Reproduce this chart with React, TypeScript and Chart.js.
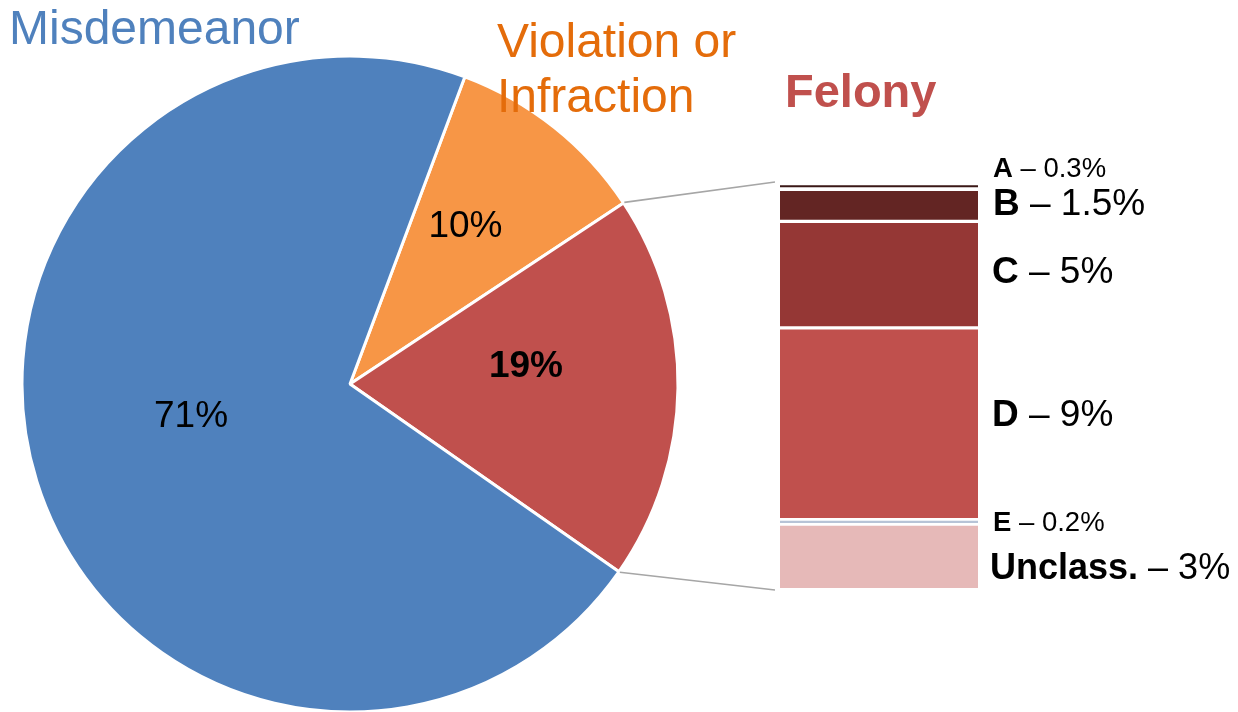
import React, { useEffect, useRef } from 'react';
import { Chart, registerables } from 'chart.js';

Chart.register(...registerables);

// ---- data ----
const pieCategories = ['Violation or Infraction', 'Felony', 'Misdemeanor'];
const pieValues = [10, 19, 71];
const pieTexts = ['10%', '19%', '71%'];

const felonyClasses = ['Unclass.', 'E', 'D', 'C', 'B', 'A'];
const felonyValues = [3, 0.2, 9, 5, 1.5, 0.3];
const felonyTexts = ['3%', '0.2%', '9%', '5%', '1.5%', '0.3%'];
const felonyTotal = 19;

// ---- styles ----
const FONT = '"Liberation Sans", Arial, Helvetica, sans-serif';
const pieColors = ['#F79646', '#C0504D', '#4F81BD'];
const pieLabelBold = [false, true, false];
const pieLabelRadius = [0.603, 0.54, 0.493];
const pieLabelShift = [-2.8, -7.3, 6.7];
const PIE_LABEL_SIZE = 37;

const barColors = ['#E6B9B8', '#B7C3D6', '#C0504D', '#953735', '#632523', '#3A1716'];
const barBorders = [
  { top: 2, bottom: 0 },
  { top: 1.4, bottom: 1.4 },
  { top: 2, bottom: 2 },
  { top: 2, bottom: 2 },
  { top: 2, bottom: 2 },
  { top: 2.5, bottom: 2.5 },
];
const barLabelSize = [36, 27.5, 37, 37, 37, 27.5];
const barLabelShift = [10.4, -0.3, -11.6, -5.2, -3.3, -18.8];
const barLabelGap = [12, 15, 14, 14, 15, 15];
const CAP = 0.716;

function drawTitles(ctx: CanvasRenderingContext2D) {
  ctx.save();
  ctx.textAlign = 'left';
  ctx.textBaseline = 'alphabetic';
  ctx.fillStyle = '#4F81BD';
  ctx.font = `48px ${FONT}`;
  ctx.fillText('Misdemeanor', 9, 43.5);
  ctx.fillStyle = '#E46C0A';
  ctx.font = `48px ${FONT}`;
  ctx.fillText('Violation or', 497, 56.5);
  ctx.fillText('Infraction', 497, 111.7);
  ctx.fillStyle = '#C0504D';
  ctx.font = `bold 47px ${FONT}`;
  ctx.fillText('Felony', 785, 106.7);
  ctx.restore();
}

export default function App() {
  const pieRef = useRef<HTMLCanvasElement>(null);
  const barRef = useRef<HTMLCanvasElement>(null);

  useEffect(() => {
    const pieTextPlugin = {
      id: 'pieText',
      afterDatasetsDraw(chart: any) {
        const ctx: CanvasRenderingContext2D = chart.ctx;
        const meta = chart.getDatasetMeta(0);
        ctx.save();
        meta.data.forEach((arc: any, i: number) => {
          const mid = (arc.startAngle + arc.endAngle) / 2 + (pieLabelShift[i] * Math.PI) / 180;
          const r = arc.outerRadius * pieLabelRadius[i];
          const x = arc.x + Math.cos(mid) * r;
          const y = arc.y + Math.sin(mid) * r;
          ctx.font = `${pieLabelBold[i] ? 'bold ' : ''}${PIE_LABEL_SIZE}px ${FONT}`;
          ctx.textAlign = 'center';
          ctx.textBaseline = 'alphabetic';
          ctx.fillStyle = '#000';
          ctx.fillText(pieTexts[i], x, y + (CAP * PIE_LABEL_SIZE) / 2);
        });
        ctx.restore();
        drawTitles(ctx);
      },
    };

    const pie = new Chart(pieRef.current!, {
      type: 'pie',
      data: {
        labels: pieCategories,
        datasets: [
          {
            data: pieValues,
            backgroundColor: pieColors,
            borderColor: '#ffffff',
            borderWidth: 3,
            hoverOffset: 0,
          },
        ],
      },
      options: {
        animation: false,
        responsive: false,
        rotation: 20.5,
        radius: 328,
        layout: { padding: { left: 23, top: 57, right: 561, bottom: 1 } },
        plugins: { legend: { display: false }, tooltip: { enabled: false } },
        events: [],
      } as any,
      plugins: [pieTextPlugin],
    });

    const barPlugin = {
      id: 'barExtras',
      afterDatasetsDraw(chart: any) {
        const ctx: CanvasRenderingContext2D = chart.ctx;
        const area = chart.chartArea;
        // connector lines from felony slice to the bar
        const arc: any = pie.getDatasetMeta(0).data[1];
        const rr = arc.outerRadius + 1;
        const p1 = { x: arc.x + Math.cos(arc.startAngle) * rr, y: arc.y + Math.sin(arc.startAngle) * rr };
        const p2 = { x: arc.x + Math.cos(arc.endAngle) * rr, y: arc.y + Math.sin(arc.endAngle) * rr };
        ctx.save();
        ctx.strokeStyle = '#A6A6A6';
        ctx.lineWidth = 1.6;
        ctx.beginPath();
        ctx.moveTo(p1.x, p1.y);
        ctx.lineTo(area.left - 5, area.top - 1);
        ctx.moveTo(p2.x, p2.y);
        ctx.lineTo(area.left - 5, area.bottom + 2);
        ctx.stroke();
        ctx.restore();

        // class labels
        ctx.save();
        ctx.textAlign = 'left';
        ctx.textBaseline = 'alphabetic';
        ctx.fillStyle = '#000';
        felonyClasses.forEach((cls, i) => {
          const el: any = chart.getDatasetMeta(i).data[0];
          const cy = (el.y + el.base) / 2 + barLabelShift[i];
          const size = barLabelSize[i];
          const baseY = cy + (CAP * size) / 2;
          let x = area.right + barLabelGap[i];
          ctx.font = `bold ${size}px ${FONT}`;
          ctx.fillText(cls, x, baseY);
          x += ctx.measureText(cls).width;
          ctx.font = `${size}px ${FONT}`;
          ctx.fillText(' \u2013 ' + felonyTexts[i], x, baseY);
        });
        ctx.restore();
      },
    };

    const bar = new Chart(barRef.current!, {
      type: 'bar',
      data: {
        labels: ['Felony'],
        datasets: felonyClasses.map((cls, i) => ({
          label: cls,
          data: [felonyValues[i]],
          backgroundColor: barColors[i],
          borderColor: '#ffffff',
          borderWidth: barBorders[i],
          borderSkipped: false,
          barPercentage: 1,
          categoryPercentage: 1,
        })),
      },
      options: {
        animation: false,
        responsive: false,
        layout: { padding: { left: 780, right: 260, top: 183, bottom: 124 } },
        scales: {
          x: { stacked: true, display: false },
          y: { stacked: true, display: false, min: 0, max: felonyTotal },
        },
        plugins: { legend: { display: false }, tooltip: { enabled: false } },
        events: [],
      } as any,
      plugins: [barPlugin],
    });

    return () => {
      bar.destroy();
      pie.destroy();
    };
  }, []);

  const canvasStyle: React.CSSProperties = { position: 'absolute', left: 0, top: 0, width: 1238, height: 712 };
  return (
    <div style={{ position: 'fixed', left: 0, top: 0, width: 1238, height: 712, background: '#ffffff' }}>
      <canvas ref={pieRef} width={1238} height={712} style={canvasStyle} />
      <canvas ref={barRef} width={1238} height={712} style={canvasStyle} />
    </div>
  );
}
